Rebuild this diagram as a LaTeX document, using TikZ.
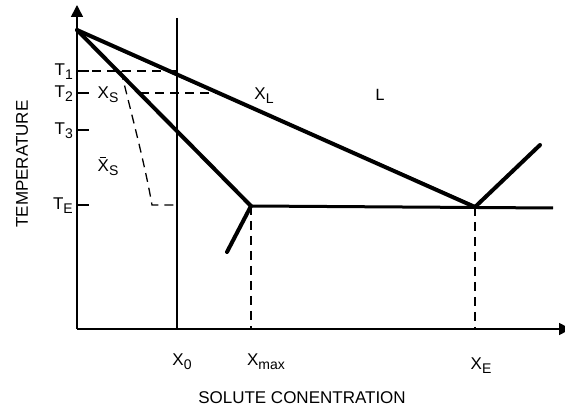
\documentclass[tikz,border=0pt]{standalone}
\usepackage{fontspec}
\setmainfont{Liberation Sans}
\newfontfamily\lfont{Liberation Mono}
\usetikzlibrary{arrows.meta}
\newcommand{\lsub}[1]{\raisebox{-0.45ex}{\fontsize{14}{14}\selectfont #1}}
\newcommand{\barX}{{\setbox0\hbox{X}\rlap{\hspace{2pt}\rule[\dimexpr\ht0+2pt\relax]{\dimexpr\wd0-5pt\relax}{1pt}}X}}

\begin{document}
\begin{tikzpicture}[x=1pt,y=-1pt,font=\fontsize{17}{19}\selectfont,>={Triangle[width=12pt,length=12pt]},
  phase/.style={line width=4pt,line cap=round},
  guide/.style={line width=1.3pt,dash pattern=on 9pt off 6pt},
  axis/.style={line width=1.6pt}]
\useasboundingbox (0,0) rectangle (565,411);
% axes
\coordinate (O) at (77,329);
\coordinate (ytop) at (77,5);
\coordinate (xend) at (571,329);
\draw[axis,->] (O) -- (ytop);
\draw[axis,->] (O) -- (xend);
\coordinate (x0top) at (177,18);
\coordinate (x0bot) at (177,329);
\draw[axis] (x0top) -- (x0bot);
% phase lines
\coordinate (A) at (77,30);
\coordinate (E) at (475,207);
\coordinate (M) at (251,206);
\coordinate (B) at (540,145);
\coordinate (S) at (227,252);
\coordinate (R) at (553,208);
\draw[phase] (A) -- (E) -- (B);
\draw[phase] (A) -- (M) -- (S);
\draw[line width=3pt] (M) -- (R);
% temperature ticks
\foreach \t/\y in {1/71,2/93,3/130,E/205}{
  \coordinate (tick\t) at (77,\y);
  \draw[axis] (tick\t) -- ++(12,0);
  \node[anchor=east,inner sep=1pt] (lab\t) at (74,\y+1) {T\lsub{\t}};
}
% dashed guides
\coordinate (liq1) at (177,71);
\coordinate (sol1) at (121,71);
\coordinate (g2a) at (140,93);
\coordinate (liq2) at (218,93);
\coordinate (sE) at (152,205);
\coordinate (xE) at (177,205);
\coordinate (mbot) at (251,329);
\coordinate (ebot) at (475,329);
\draw[guide] (tick1) -- (liq1);
\draw[guide] (g2a) -- (liq2);
\draw[guide] (sol1) .. controls (133,120) and (145,165) .. (sE) -- (xE);
\draw[guide] (M) -- (mbot);
\draw[guide] (E) -- (ebot);
% labels
\node (xs) at (108,95) {X\lsub{S}};
\node (xsbar) at (108,166) {\barX\lsub{S}};
\node (xl) at (264,96) {X\lsub{L}};
\node (liq) at (380,95) {\lfont L};
\node (lx0) at (182,362) {X\lsub{0}};
\node (lxmax) at (266,362) {X\lsub{max}};
\node (lxe) at (481,366) {X\lsub{E}};
\node (xtitle) at (302,398) {SOLUTE CONENTRATION};
\node[rotate=90] (ytitle) at (22,164) {TEMPERATURE};
\end{tikzpicture}
\end{document}
